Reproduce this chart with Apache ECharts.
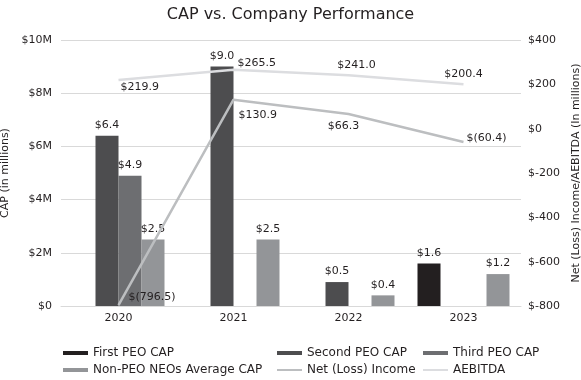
<!DOCTYPE html>
<html><head><meta charset="utf-8">
<script src="https://cdn.jsdelivr.net/npm/echarts@6/dist/echarts.min.js"></script>
<style>html,body{margin:0;padding:0;background:#fff}#c{width:581px;height:380px}</style>
</head><body><div id="c"></div>
<script>
var years = ['2020', '2021', '2022', '2023'];
var firstPEO = [null, null, null, 1.6];
var secondPEO = [6.4, 9.0, 0.9, null];
var secondPEOLabels = ['$6.4', '$9.0', '$0.5', ''];
var thirdPEO = [4.9, null, null, null];
var nonPEO = [2.5, 2.5, 0.4, 1.2];
var netIncome = [-796.5, 130.9, 66.3, -60.4];
var aebitda = [219.9, 265.5, 241.0, 200.4];
var leftTicks = ['$0', '$2M', '$4M', '$6M', '$8M', '$10M'];

var FONT = 'DejaVu Sans';
var TXT = '#231f20';
var LINE_ICON = 'path://M0,0M25,4M0,1H25V3H0Z';

function money(v) { return v < 0 ? '$(' + Math.abs(v).toFixed(1) + ')' : '$' + v.toFixed(1); }

function barSeries(name, data, color, labels) {
  return {
    name: name, type: 'bar', yAxisIndex: 0, data: data,
    barGap: '0%', barCategoryGap: '20%',
    itemStyle: { color: color },
    label: { show: true, position: 'top', color: TXT, fontFamily: FONT, fontSize: 11,
      formatter: function (p) { return labels ? labels[p.dataIndex] : money(p.value); } }
  };
}

var netPos = [['right', [5, -8]], ['right', [0, 15]], ['bottom', [-5, 2]], ['right', [-2, -4]]];
var aePos = [['right', [-3, 7]], ['right', [-1, -7]], ['top', [8, 0]], ['top', [0, 0]]];

function lineSeries(name, data, color, pos) {
  return {
    name: name, type: 'line', yAxisIndex: 1, symbol: 'circle', symbolSize: 0, showSymbol: true, z: 5,
    lineStyle: { color: color, width: 2.5 }, itemStyle: { color: color },
    label: { show: true },
    data: data.map(function (v, i) {
      return { value: v, label: { show: true, position: pos[i][0], offset: pos[i][1], distance: 5,
        color: TXT, fontFamily: FONT, fontSize: 11, formatter: money(v) } };
    })
  };
}

var legendBase = {
  orient: 'vertical', itemWidth: 25, itemHeight: 4, itemGap: 5, top: 347, height: 40, padding: 0,
  textStyle: { color: TXT, fontFamily: FONT, fontSize: 12 }
};
function leg(left, items) {
  var o = JSON.parse(JSON.stringify(legendBase));
  o.left = left; o.data = items; return o;
}

var chart = echarts.init(document.getElementById('c'));
chart.setOption({
  animation: false,
  title: { text: 'CAP vs. Company Performance', left: 'center', top: 2,
    textStyle: { color: TXT, fontFamily: FONT, fontSize: 16, fontWeight: 'normal' } },
  grid: { left: 61, right: 60, top: 40, bottom: 74, containLabel: false, outerBoundsMode: 'none' },
  legend: [
    leg(63, [{ name: 'First PEO CAP', icon: 'rect' }, { name: 'Non-PEO NEOs Average CAP', icon: 'rect' }]),
    leg(277, [{ name: 'Second PEO CAP', icon: 'rect' }, { name: 'Net (Loss) Income', icon: LINE_ICON }]),
    leg(423, [{ name: 'Third PEO CAP', icon: 'rect' }, { name: 'AEBITDA', icon: LINE_ICON }])
  ],
  xAxis: {
    type: 'category', data: years,
    axisLine: { show: true, lineStyle: { color: '#d9d9d9' } }, axisTick: { show: false },
    axisLabel: { color: TXT, fontFamily: FONT, fontSize: 11, margin: 7 }
  },
  yAxis: [{
    type: 'value', min: 0, max: 10, interval: 2,
    name: 'CAP (in millions)', nameLocation: 'middle', nameGap: 42, nameRotate: 90,
    nameTextStyle: { color: TXT, fontFamily: FONT, fontSize: 11 },
    axisLine: { show: false }, axisTick: { show: false },
    axisLabel: { color: TXT, fontFamily: FONT, fontSize: 11, margin: 9,
      formatter: function (v) { return leftTicks[Math.round(v / 2)]; } },
    splitLine: { lineStyle: { color: '#d9d9d9' } }
  }, {
    type: 'value', min: -800, max: 400, interval: 200,
    name: 'Net (Loss) Income/AEBITDA (In millions)', nameLocation: 'middle', nameGap: 48, nameRotate: 90,
    nameTextStyle: { color: TXT, fontFamily: FONT, fontSize: 11 },
    axisLine: { show: false }, axisTick: { show: false }, splitLine: { show: false },
    axisLabel: { color: TXT, fontFamily: FONT, fontSize: 11, margin: 7,
      formatter: function (v) { return '$' + v; } }
  }],
  series: [
    barSeries('First PEO CAP', firstPEO, '#231f20'),
    barSeries('Second PEO CAP', secondPEO, '#4d4d4f', secondPEOLabels),
    barSeries('Third PEO CAP', thirdPEO, '#6d6e71'),
    barSeries('Non-PEO NEOs Average CAP', nonPEO, '#939598'),
    lineSeries('Net (Loss) Income', netIncome, '#bcbec0', netPos),
    lineSeries('AEBITDA', aebitda, '#dcdde0', aePos)
  ]
});
</script></body></html>
